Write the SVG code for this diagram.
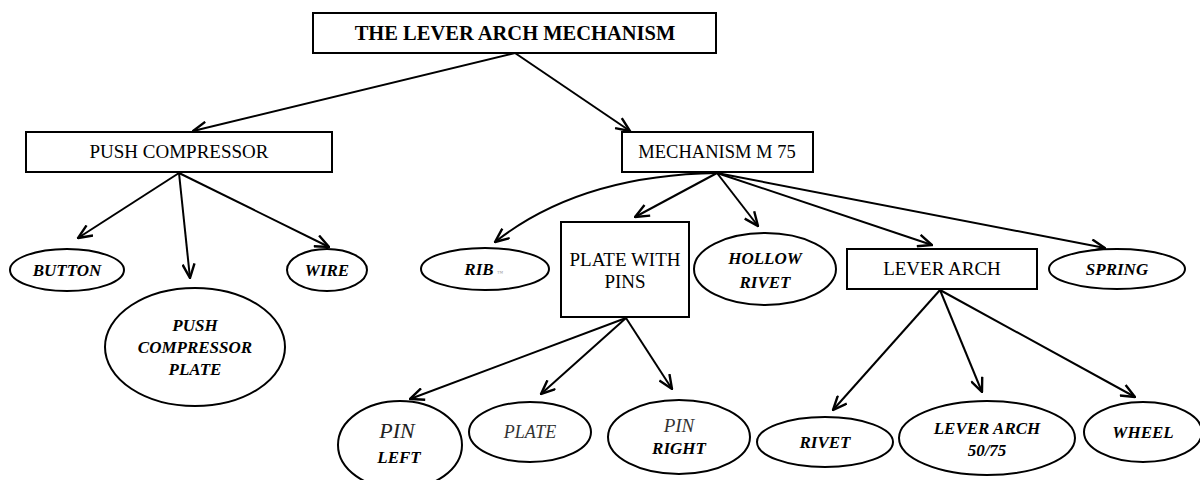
<svg xmlns="http://www.w3.org/2000/svg" width="1200" height="480" viewBox="0 0 1200 480" font-family="'Liberation Serif', 'Times New Roman', Tinos, 'DejaVu Serif', serif">
  <style>
    .box { fill: #fff; stroke: #000; stroke-width: 2; }
    .oval { fill: #fff; stroke: #000; stroke-width: 2; }
    .edge { fill: none; stroke: #000; stroke-width: 2; marker-end: url(#arrow); }
    text { font-family: 'Liberation Serif', 'Times New Roman', Tinos, 'DejaVu Serif', serif; fill: #000; text-anchor: middle; }
    .title { font-size: 20.5px; font-weight: bold; }
    .rect-label { font-size: 19px; }
    .part { font-size: 17px; font-style: italic; font-weight: bold; }
    .part-light { font-style: italic; font-weight: normal; fill: #222; }
  </style>
  <defs>
    <marker id="arrow" viewBox="0 0 16 14" refX="15" refY="7" markerWidth="16" markerHeight="14" markerUnits="userSpaceOnUse" orient="auto">
      <path d="M1,1 L15,7 L1,13" fill="none" stroke="#000" stroke-width="2.4"/>
    </marker>
  </defs>
  <rect width="1200" height="480" fill="#fff"/>

  <!-- connectors -->
  <g id="connectors">
    <path class="edge" d="M515,53 L193,131"/>
    <path class="edge" d="M515,53 L630,131"/>
    <path class="edge" d="M179,173 L78,238"/>
    <path class="edge" d="M179,173 L190,278"/>
    <path class="edge" d="M179,173 L329,247"/>
    <path class="edge" d="M717,173 Q580,175 495,242"/>
    <path class="edge" d="M717,173 L635,217"/>
    <path class="edge" d="M717,173 L758,226"/>
    <path class="edge" d="M717,173 L932,245"/>
    <path class="edge" d="M717,173 L1105,248"/>
    <path class="edge" d="M626,318 L410,399"/>
    <path class="edge" d="M626,318 L541,394"/>
    <path class="edge" d="M626,318 L672,389"/>
    <path class="edge" d="M940,290 L833,410"/>
    <path class="edge" d="M940,290 L982,392"/>
    <path class="edge" d="M940,290 L1135,397"/>
  </g>

  <!-- root -->
  <g id="lever-arch-mechanism">
    <rect class="box" x="313" y="13" width="403" height="40"/>
    <text class="title" x="515" y="40">THE LEVER ARCH MECHANISM</text>
  </g>

  <!-- push compressor branch -->
  <g id="push-compressor">
    <rect class="box" x="26" y="132" width="306" height="40"/>
    <text class="rect-label" x="179" y="158">PUSH COMPRESSOR</text>
  </g>
  <g id="button">
    <ellipse class="oval" cx="67" cy="270" rx="57" ry="21"/>
    <text class="part" x="67" y="276">BUTTON</text>
  </g>
  <g id="push-compressor-plate">
    <ellipse class="oval" cx="195" cy="347" rx="90" ry="59"/>
    <text class="part" x="195" y="331">PUSH</text>
    <text class="part" x="195" y="353">COMPRESSOR</text>
    <text class="part" x="195" y="375">PLATE</text>
  </g>
  <g id="wire">
    <ellipse class="oval" cx="327" cy="270" rx="40" ry="21"/>
    <text class="part" x="327" y="276">WIRE</text>
  </g>

  <!-- mechanism branch -->
  <g id="mechanism-m75">
    <rect class="box" x="622" y="132" width="191" height="40"/>
    <text class="rect-label" x="717" y="158" style="font-size:18.5px;">MECHANISM M 75</text>
  </g>
  <g id="rib">
    <ellipse class="oval" cx="485" cy="269" rx="64" ry="21"/>
    <text class="part" x="479" y="275">RIB</text>
    <text x="500" y="275" style="font-size:6px; fill:#999;">™</text>
  </g>
  <g id="plate-with-pins">
    <rect class="box" x="561" y="222" width="128" height="95"/>
    <text class="rect-label" x="625" y="266">PLATE WITH</text>
    <text class="rect-label" x="625" y="288">PINS</text>
  </g>
  <g id="hollow-rivet">
    <ellipse class="oval" cx="765" cy="269" rx="71" ry="36"/>
    <text class="part" x="765" y="264">HOLLOW</text>
    <text class="part" x="765" y="288">RIVET</text>
  </g>
  <g id="lever-arch">
    <rect class="box" x="847" y="249" width="190" height="40"/>
    <text class="rect-label" x="942" y="275">LEVER ARCH</text>
  </g>
  <g id="spring">
    <ellipse class="oval" cx="1117" cy="269" rx="68" ry="20"/>
    <text class="part" x="1117" y="275">SPRING</text>
  </g>

  <!-- plate with pins parts -->
  <g id="pin-left">
    <ellipse class="oval" cx="400" cy="445" rx="62" ry="44"/>
    <text class="part-light" x="397" y="438" style="font-size:22px;">PIN</text>
    <text class="part" x="399" y="463">LEFT</text>
  </g>
  <g id="plate">
    <ellipse class="oval" cx="530" cy="432" rx="61" ry="30"/>
    <text class="part-light" x="530" y="438" style="font-size:18px; fill:#333;">PLATE</text>
  </g>
  <g id="pin-right">
    <ellipse class="oval" cx="679" cy="437" rx="71" ry="37"/>
    <text class="part-light" x="679" y="432" style="font-size:19px; fill:#333;">PIN</text>
    <text class="part" x="679" y="454">RIGHT</text>
  </g>

  <!-- lever arch parts -->
  <g id="rivet">
    <ellipse class="oval" cx="825" cy="442" rx="68" ry="25"/>
    <text class="part" x="825" y="448">RIVET</text>
  </g>
  <g id="lever-arch-50-75">
    <ellipse class="oval" cx="987" cy="438" rx="88" ry="37"/>
    <text class="part" x="987" y="434">LEVER ARCH</text>
    <text class="part" x="987" y="456">50/75</text>
  </g>
  <g id="wheel">
    <ellipse class="oval" cx="1143" cy="432" rx="59" ry="30"/>
    <text class="part" x="1143" y="438">WHEEL</text>
  </g>
</svg>
